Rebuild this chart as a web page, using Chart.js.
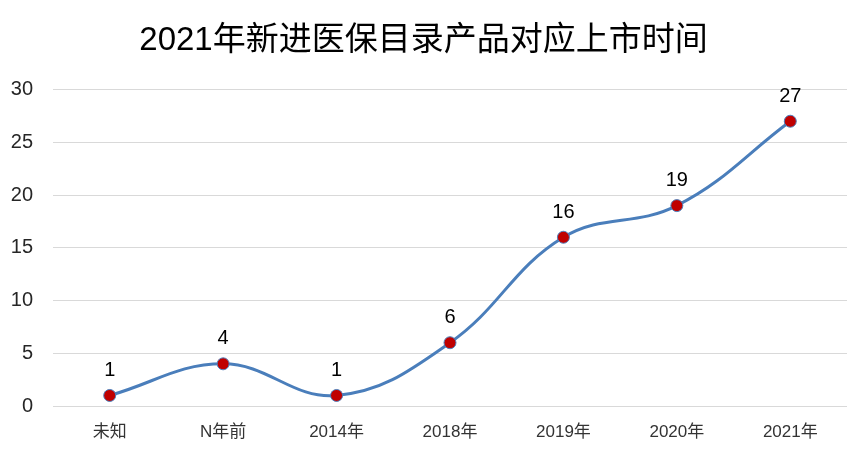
<!DOCTYPE html>
<html>
<head>
<meta charset="utf-8">
<script src="https://cdn.jsdelivr.net/npm/chart.js@4"></script>
<style>
  html, body { margin: 0; padding: 0; background: #fff; }
  #wrap { width: 866px; height: 457px; }
</style>
</head>
<body>
<div id="wrap"><canvas id="shijianChart"></canvas></div>
<script>
const categorii = ['未知', 'N年前', '2014年', '2018年', '2019年', '2020年', '2021年'];
const valori = [1, 4, 1, 6, 16, 19, 27];
const titlu = '2021年新进医保目录产品对应上市时间';
const fontFamily = '"Liberation Sans", "Noto Sans CJK SC", sans-serif';

// etichete deasupra punctelor
const eticheteDate = {
  id: 'eticheteDate',
  afterDatasetsDraw(chart) {
    const ctx = chart.ctx;
    const meta = chart.getDatasetMeta(0);
    ctx.save();
    ctx.font = '20px ' + fontFamily;
    ctx.fillStyle = '#000';
    ctx.textAlign = 'center';
    ctx.textBaseline = 'middle';
    meta.data.forEach((pt, i) => {
      ctx.fillText(String(valori[i]), pt.x, pt.y - 25);
    });
    ctx.restore();
  }
};

const ctx = document.getElementById('shijianChart').getContext('2d');
new Chart(ctx, {
  type: 'line',
  data: {
    labels: categorii,
    datasets: [{
      data: valori,
      borderColor: '#4a7ebb',
      borderWidth: 3,
      tension: 0.4,
      pointRadius: 6,
      pointBackgroundColor: '#c00000',
      pointBorderColor: '#4f81bd',
      pointBorderWidth: 1,
      fill: false
    }]
  },
  options: {
    responsive: true,
    maintainAspectRatio: false,
    animation: false,
    layout: { padding: { left: 0, right: 19, bottom: 0 } },
    plugins: {
      legend: { display: false },
      tooltip: { enabled: false },
      title: {
        display: true,
        text: titlu,
        color: '#000',
        font: { family: fontFamily, size: 33, weight: 'normal', lineHeight: 1.2 },
        padding: { top: 21, bottom: 29 }
      }
    },
    scales: {
      x: {
        offset: true,
        grid: { display: false, drawTicks: false },
        border: { display: false },
        ticks: {
          color: '#333',
          padding: 16,
          maxRotation: 0,
          font: { family: fontFamily, size: 17 }
        },
        afterFit(scale) { scale.height = 51; }
      },
      y: {
        min: 0,
        max: 30,
        grid: { color: '#d9d9d9', drawTicks: false },
        border: { display: false },
        ticks: {
          stepSize: 5,
          color: '#262626',
          padding: 20,
          font: { family: fontFamily, size: 20 }
        },
        afterFit(scale) { scale.width = 53; }
      }
    }
  },
  plugins: [eticheteDate]
});
</script>
</body>
</html>
